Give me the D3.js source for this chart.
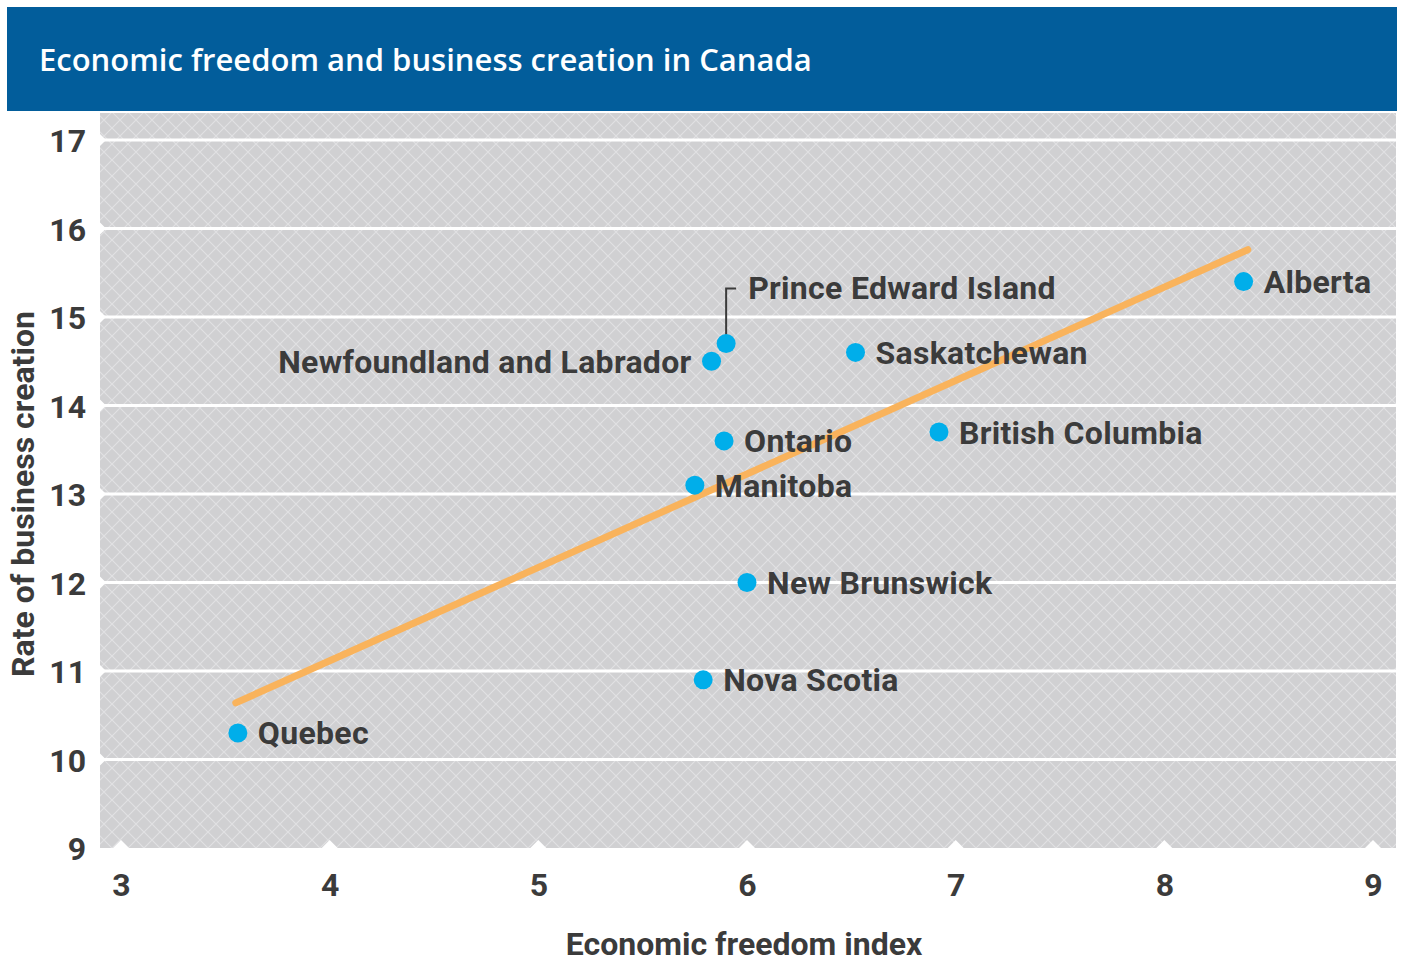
<!DOCTYPE html>
<html>
<head>
<meta charset="utf-8">
<script src="https://cdn.jsdelivr.net/npm/d3@7"></script>
<style>
  body { margin: 0; background: #fff; }
  text { font-family: "Roboto", "DejaVu Sans", sans-serif; }
</style>
</head>
<body>
<div id="chart"></div>
<script>
// provinces and their values
const provinces = ["Quebec", "Nova Scotia", "New Brunswick", "Manitoba", "Ontario",
  "Newfoundland and Labrador", "Prince Edward Island", "Saskatchewan", "British Columbia", "Alberta"];
const freedomIndex = [3.56, 5.79, 6.0, 5.75, 5.89, 5.83, 5.9, 6.52, 6.92, 8.38];
const businessRate = [10.3, 10.9, 12.0, 13.1, 13.6, 14.5, 14.7, 14.6, 13.7, 15.4];

// trend line end points
const trendX = [3.55, 8.4];
const trendY = [10.64, 15.76];

const xTicks = [3, 4, 5, 6, 7, 8, 9];
const yTicks = [9, 10, 11, 12, 13, 14, 15, 16, 17];

const title = "Economic freedom and business creation in Canada";
const xTitle = "Economic freedom index";
const yTitle = "Rate of business creation";

const width = 1401;
const height = 963;
const plot = { left: 100, right: 1396, top: 113, bottom: 848 };
const textColor = "#3b3b3b";

const svg = d3.select("#chart")
  .append("svg")
  .attr("width", width)
  .attr("height", height);

// crosshatch background
const hs = 16;
const defs = svg.append("defs");
const pat = defs.append("pattern")
  .attr("id", "hatch")
  .attr("patternUnits", "userSpaceOnUse")
  .attr("width", hs)
  .attr("height", hs);
pat.append("rect").attr("width", hs).attr("height", hs).attr("fill", "#d0d0d2");
pat.append("path")
  .attr("d", `M0,0 L${hs},${hs} M${hs},0 L0,${hs}`)
  .attr("stroke", "#e1e1e3")
  .attr("stroke-width", 1.2);

const x = d3.scaleLinear().domain([3, 9]).range([121, 1373]);
const y = d3.scaleLinear().domain([9, 17]).range([848, 140]);

// header
svg.append("rect")
  .attr("x", 7).attr("y", 7)
  .attr("width", 1390).attr("height", 104)
  .attr("fill", "#025d9b");
svg.append("text")
  .attr("x", 39).attr("y", 71)
  .attr("fill", "#fff")
  .style("font-family", "'Open Sans', sans-serif")
  .style("font-size", "31px")
  .style("font-weight", 600)
  .text(title);

svg.append("rect")
  .attr("x", plot.left).attr("y", plot.top)
  .attr("width", plot.right - plot.left)
  .attr("height", plot.bottom - plot.top)
  .attr("fill", "url(#hatch)");

// gridlines with little notches on the left edge
const grid = svg.append("g");
grid.selectAll("line")
  .data(yTicks.filter(d => d > 9))
  .join("line")
    .attr("x1", plot.left).attr("x2", plot.right)
    .attr("y1", d => y(d)).attr("y2", d => y(d))
    .attr("stroke", "#fff")
    .attr("stroke-width", 3);
grid.selectAll("path")
  .data(yTicks.filter(d => d > 9))
  .join("path")
    .attr("d", d => `M${plot.left - 1},${y(d) - 7} L${plot.left + 6},${y(d)} L${plot.left - 1},${y(d) + 7}Z`)
    .attr("fill", "#fff");

// white tick triangles along the bottom
svg.append("g").selectAll("path")
  .data(xTicks)
  .join("path")
    .attr("d", d => `M${x(d) - 9},${plot.bottom + 1} L${x(d)},${plot.bottom - 8} L${x(d) + 9},${plot.bottom + 1}Z`)
    .attr("fill", "#fff");

// axes
const yAxis = svg.append("g")
  .attr("transform", `translate(${plot.left},0)`)
  .call(d3.axisLeft(y).tickValues(yTicks).tickFormat(d3.format("d")).tickSize(0).tickPadding(14));
const xAxis = svg.append("g")
  .attr("transform", `translate(0,${plot.bottom})`)
  .call(d3.axisBottom(x).tickValues(xTicks).tickFormat(d3.format("d")).tickSize(0).tickPadding(25));
[yAxis, xAxis].forEach(a => {
  a.select(".domain").remove();
  a.selectAll("text")
    .attr("fill", textColor)
    .style("font-size", "32px")
    .style("font-weight", 700);
});
yAxis.selectAll("text").attr("dy", "0.36em");

svg.append("text")
  .attr("transform", `translate(34,${(140 + 848) / 2}) rotate(-90)`)
  .attr("text-anchor", "middle")
  .attr("fill", textColor)
  .style("font-size", "32px")
  .style("font-weight", 700)
  .text(yTitle);
svg.append("text")
  .attr("x", 744).attr("y", 955)
  .attr("text-anchor", "middle")
  .attr("fill", textColor)
  .style("font-size", "32px")
  .style("font-weight", 700)
  .text(xTitle);

// trend line
svg.append("line")
  .attr("x1", x(trendX[0])).attr("y1", y(trendY[0]))
  .attr("x2", x(trendX[1])).attr("y2", y(trendY[1]))
  .attr("stroke", "#f9b35c")
  .attr("stroke-width", 7)
  .attr("stroke-linecap", "round");

const data = provinces.map((p, i) => ({ name: p, fx: freedomIndex[i], rate: businessRate[i] }));

// PEI leader line
const pei = data.find(d => d.name === "Prince Edward Island");
svg.append("path")
  .attr("d", `M${x(pei.fx)},${y(pei.rate)} V${y(pei.rate) - 55} H${x(pei.fx) + 10}`)
  .attr("fill", "none")
  .attr("stroke", "#3b3b3b")
  .attr("stroke-width", 2);

svg.append("g").selectAll("circle")
  .data(data)
  .join("circle")
    .attr("cx", d => x(d.fx))
    .attr("cy", d => y(d.rate))
    .attr("r", 9.5)
    .attr("fill", "#00aeea");

svg.append("g").selectAll("text")
  .data(data)
  .join("text")
    .attr("x", d => {
      if (d.name === "Newfoundland and Labrador") return x(d.fx) - 20;
      if (d.name === "Prince Edward Island") return x(d.fx) + 22;
      return x(d.fx) + 20;
    })
    .attr("y", d => d.name === "Prince Edward Island" ? y(d.rate) - 56 : y(d.rate))
    .attr("dy", "0.36em")
    .attr("text-anchor", d => d.name === "Newfoundland and Labrador" ? "end" : "start")
    .attr("fill", textColor)
    .style("font-size", "32px")
    .style("font-weight", 700)
    .style("letter-spacing", "0.3px")
    .text(d => d.name);
</script>
</body>
</html>
